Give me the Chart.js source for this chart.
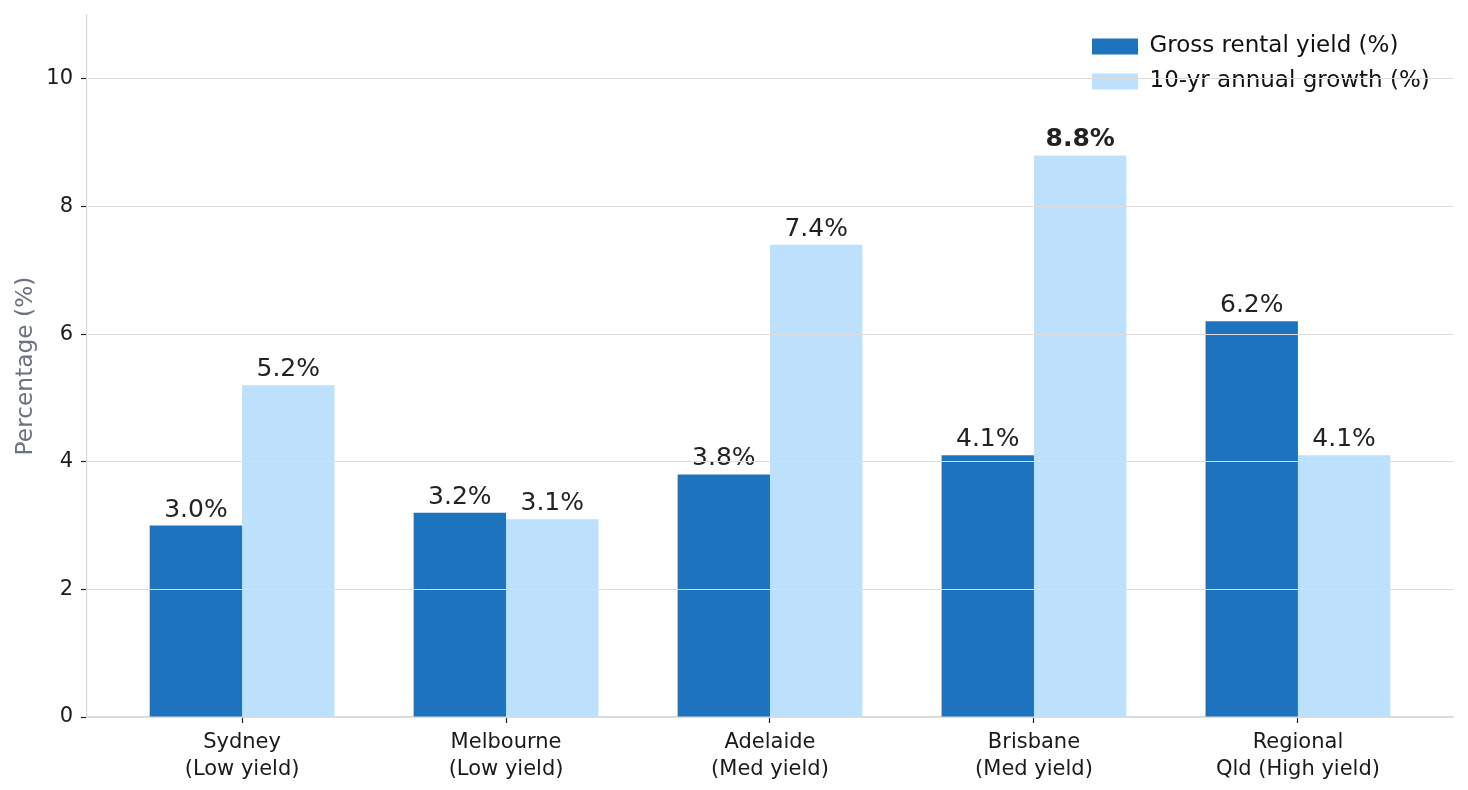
<!DOCTYPE html>
<html>
<head>
<meta charset="utf-8">
<script src="https://cdn.jsdelivr.net/npm/chart.js@4/dist/chart.umd.min.js"></script>
<style>
  html, body { margin: 0; padding: 0; background: #ffffff; }
  #wrap { width: 1468px; height: 790px; position: relative; }
</style>
</head>
<body>
<div id="wrap"><canvas id="c"></canvas></div>
<script>
// ---- data ----
const categories = [
  ["Sydney", "(Low yield)"],
  ["Melbourne", "(Low yield)"],
  ["Adelaide", "(Med yield)"],
  ["Brisbane", "(Med yield)"],
  ["Regional", "Qld (High yield)"]
];
const grossYield = [3.0, 3.2, 3.8, 4.1, 6.2];
const annualGrowth = [5.2, 3.1, 7.4, 8.8, 4.1];
const seriesNames = ["Gross rental yield (%)", "10-yr annual growth (%)"];
const yTicks = [0, 2, 4, 6, 8, 10];
const yTitle = "Percentage (%)";

// ---- styles ----
const FONT = "'DejaVu Sans', 'Liberation Sans', sans-serif";
const DARK = "#1e73be";
const LIGHT = "#bde1fd";
const TICK_SIZE = 21;
const VALUE_SIZE = 25;
const LEGEND_SIZE = 23;
const TITLE_SIZE = 23.3;

Chart.defaults.font.family = FONT;
Chart.defaults.color = "#1a1a1a";

const xIdx = categories.map((_, i) => i);
const toPoints = arr => arr.map((v, i) => ({ x: xIdx[i], y: v }));
const maxVal = Math.max(...grossYield, ...annualGrowth);

const valueLabels = {
  id: "valueLabels",
  afterDatasetsDraw(chart) {
    const ctx = chart.ctx;
    ctx.save();
    ctx.textAlign = "center";
    ctx.textBaseline = "alphabetic";
    ctx.fillStyle = "#222222";
    chart.data.datasets.forEach((ds, di) => {
      const meta = chart.getDatasetMeta(di);
      meta.data.forEach((bar, i) => {
        const v = ds.data[i].y;
        const bold = v === maxVal;
        ctx.font = (bold ? "bold " : "") + VALUE_SIZE + "px " + FONT;
        ctx.fillText(v.toFixed(1) + "%", bar.x, bar.y - 9);
      });
    });
    ctx.restore();
  }
};

const legendPlace = {
  id: "legendPlace",
  afterLayout(chart) {
    const lg = chart.legend;
    if (!lg) return;
    const pad = lg.options.labels.padding;
    const w = lg.width;
    lg.left = chart.chartArea.right - 361 - pad;
    lg.right = lg.left + w;
    lg.top = chart.chartArea.top + 8;
    lg.bottom = chart.chartArea.bottom;
    lg.height = lg.bottom - lg.top;
  }
};

new Chart(document.getElementById("c"), {
  type: "bar",
  data: {
    datasets: [
      { label: seriesNames[0], data: toPoints(grossYield), backgroundColor: DARK, borderWidth: 0 },
      { label: seriesNames[1], data: toPoints(annualGrowth), backgroundColor: LIGHT, borderWidth: 0 }
    ]
  },
  options: {
    responsive: true,
    maintainAspectRatio: false,
    animation: false,
    devicePixelRatio: 1,
    categoryPercentage: 0.7,
    barPercentage: 1.0,
    layout: { padding: { left: 0, right: 15, top: 15, bottom: 0 } },
    plugins: {
      tooltip: { enabled: false },
      legend: {
        position: "chartArea",
        align: "start",
        labels: {
          boxWidth: 46,
          boxHeight: 16,
          padding: 12,
          color: "#111111",
          font: { size: LEGEND_SIZE, family: FONT }
        }
      }
    },
    scales: {
      x: {
        type: "linear",
        offset: false,
        min: -0.5875,
        max: 4.5875,
        afterFit(scale) { scale.height = 73; scale.paddingLeft = 0; scale.paddingRight = 0; },
        afterBuildTicks(scale) { scale.ticks = xIdx.map(v => ({ value: v })); },
        grid: { offset: false, drawOnChartArea: false, drawTicks: true, tickLength: 6, tickColor: "#222222", tickWidth: 1.2 },
        border: { display: true, color: "#d9d9d9", width: 1.2 },
        ticks: {
          padding: 6,
          autoSkip: false,
          maxRotation: 0,
          color: "#1a1a1a",
          font: { size: TICK_SIZE, family: FONT, lineHeight: 1.28 },
          callback: v => categories[v]
        }
      },
      y: {
        min: 0,
        max: 11,
        afterFit(scale) { scale.width = 87; scale.paddingTop = 0; scale.paddingBottom = 0; },
        afterBuildTicks(scale) { scale.ticks = yTicks.map(v => ({ value: v })); },
        grid: { z: 1, color: "#dddddd", lineWidth: 1, drawTicks: true, tickLength: 6, tickColor: "#222222", tickWidth: 1.2 },
        border: { z: 1, display: true, color: "#d9d9d9", width: 1.2 },
        ticks: {
          padding: 8,
          color: "#1a1a1a",
          font: { size: TICK_SIZE, family: FONT },
          callback: v => String(v)
        },
        title: {
          display: true,
          text: yTitle,
          color: "#6b7280",
          padding: { top: 12, bottom: 0 },
          font: { size: TITLE_SIZE, family: FONT, lineHeight: 1.2 }
        }
      }
    }
  },
  plugins: [valueLabels, legendPlace]
});
</script>
</body>
</html>
